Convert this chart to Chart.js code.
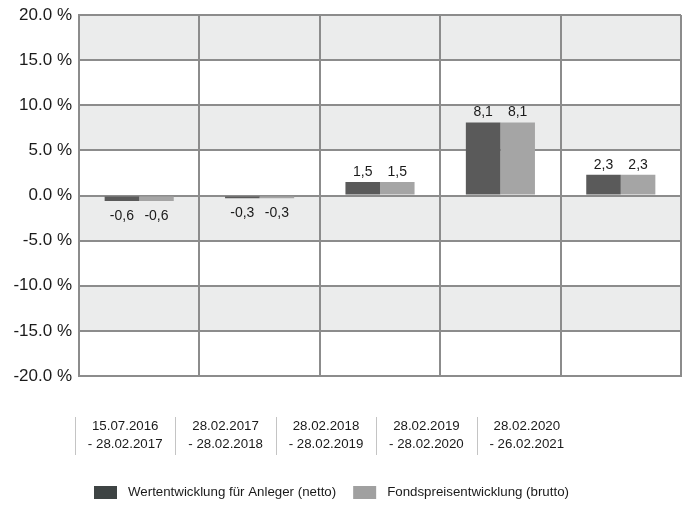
<!DOCTYPE html>
<html><head><meta charset="utf-8">
<script src="https://cdn.jsdelivr.net/npm/chart.js@4/dist/chart.umd.min.js"></script>
<style>html,body{margin:0;padding:0;background:#fff}#wrap{width:688px;height:505px;position:relative}</style>
</head><body><div id="wrap"><canvas id="c" width="688" height="505"></canvas></div>
<script>
const categories = [
  ['15.07.2016', '- 28.02.2017'],
  ['28.02.2017', '- 28.02.2018'],
  ['28.02.2018', '- 28.02.2019'],
  ['28.02.2019', '- 28.02.2020'],
  ['28.02.2020', '- 26.02.2021']
];
const nettoValues = [-0.6, -0.3, 1.5, 8.1, 2.3];
const bruttoValues = [-0.6, -0.3, 1.5, 8.1, 2.3];
const seriesNames = ['Wertentwicklung für Anleger (netto)', 'Fondspreisentwicklung (brutto)'];
const yTickValues = [-20, -15, -10, -5, 0, 5, 10, 15, 20];
const grayBands = [[15, 20], [5, 10], [-5, 0], [-15, -10]];

const FONT = "'Liberation Sans', Arial, sans-serif";
const GRID = '#8c8c8c';
const barColors = ['#5a5a5a', '#a5a5a5'];
const legendColors = ['#3e4444', '#a0a0a0'];

const bandsPlugin = {
  id: 'bands',
  beforeDraw(chart) {
    const {ctx, chartArea: a, scales: {y}} = chart;
    ctx.save();
    ctx.fillStyle = '#ebecec';
    grayBands.forEach(([lo, hi]) => {
      const t = y.getPixelForValue(hi), b = y.getPixelForValue(lo);
      ctx.fillRect(a.left, t, a.right - a.left, b - t);
    });
    ctx.restore();
  }
};

const valueLabels = {
  id: 'valueLabels',
  afterDatasetsDraw(chart) {
    const ctx = chart.ctx;
    ctx.save();
    ctx.font = '14px ' + FONT;
    ctx.fillStyle = '#1a1a1a';
    ctx.textAlign = 'center';
    chart.data.datasets.forEach((ds, di) => {
      chart.getDatasetMeta(di).data.forEach((el, i) => {
        const v = ds.data[i];
        const txt = v.toFixed(1).replace('.', ',');
        if (v >= 0) {
          ctx.textBaseline = 'alphabetic';
          ctx.fillText(txt, el.x, el.y - 6);
        } else {
          ctx.textBaseline = 'top';
          ctx.fillText(txt, el.x, el.y + 8);
        }
      });
    });
    ctx.restore();
  }
};

const categoryRow = {
  id: 'categoryRow',
  afterDraw(chart) {
    const ctx = chart.ctx;
    const left = 75, colW = 100.4, top = 417, bottom = 455;
    ctx.save();
    ctx.font = '13.3px ' + FONT;
    ctx.fillStyle = '#1a1a1a';
    ctx.textAlign = 'center';
    ctx.textBaseline = 'middle';
    chart.data.labels.forEach((lab, i) => {
      const x0 = left + i * colW;
      ctx.strokeStyle = '#c4c4c4';
      ctx.lineWidth = 1;
      ctx.beginPath();
      ctx.moveTo(Math.round(x0) + 0.5, top);
      ctx.lineTo(Math.round(x0) + 0.5, bottom);
      ctx.stroke();
      lab.forEach((line, j) => ctx.fillText(line, x0 + colW / 2, 426 + j * 18));
    });
    ctx.restore();
  }
};

const customLegend = {
  id: 'customLegend',
  afterDraw(chart) {
    const ctx = chart.ctx;
    ctx.save();
    ctx.font = '13.3px ' + FONT;
    ctx.textBaseline = 'middle';
    ctx.textAlign = 'left';
    const boxW = 23, boxH = 13, gapText = 11, gapItem = 17;
    const items = chart.data.datasets.map((ds, i) => ({label: ds.label, color: legendColors[i], w: ctx.measureText(ds.label).width}));
    let x = 94;
    const cy = 492.5;
    items.forEach(it => {
      ctx.fillStyle = it.color;
      ctx.fillRect(x, cy - boxH / 2, boxW, boxH);
      ctx.fillStyle = '#1a1a1a';
      ctx.fillText(it.label, x + boxW + gapText, cy);
      x += boxW + gapText + it.w + gapItem;
    });
    ctx.restore();
  }
};

new Chart(document.getElementById('c'), {
  type: 'bar',
  data: {
    labels: categories,
    datasets: [
      {label: seriesNames[0], data: nettoValues, backgroundColor: barColors[0], categoryPercentage: 0.574, barPercentage: 1},
      {label: seriesNames[1], data: bruttoValues, backgroundColor: barColors[1], categoryPercentage: 0.574, barPercentage: 1}
    ]
  },
  options: {
    responsive: false,
    animation: false,
    devicePixelRatio: 1,
    layout: {padding: {top: 15, right: 7, bottom: 129, left: 0}},
    plugins: {legend: {display: false}, tooltip: {enabled: false}},
    scales: {
      x: {
        ticks: {display: false},
        grid: {color: GRID, lineWidth: 2, drawTicks: false, offset: true},
        border: {color: GRID, width: 2},
        afterFit(s) { s.height = 0; s.paddingLeft = 0; s.paddingRight = 0; }
      },
      y: {
        min: -20, max: 20,
        afterBuildTicks(s) { s.ticks = yTickValues.map(v => ({value: v})); },
        ticks: {
          callback: v => v.toFixed(1) + ' %',
          font: {size: 17, family: FONT},
          color: '#1a1a1a',
          padding: 7
        },
        grid: {color: GRID, lineWidth: 2, drawTicks: false},
        border: {color: GRID, width: 2},
        afterFit(s) { s.width = 79; s.paddingTop = 0; s.paddingBottom = 0; }
      }
    }
  },
  plugins: [bandsPlugin, valueLabels, categoryRow, customLegend]
});
</script>
</body></html>
